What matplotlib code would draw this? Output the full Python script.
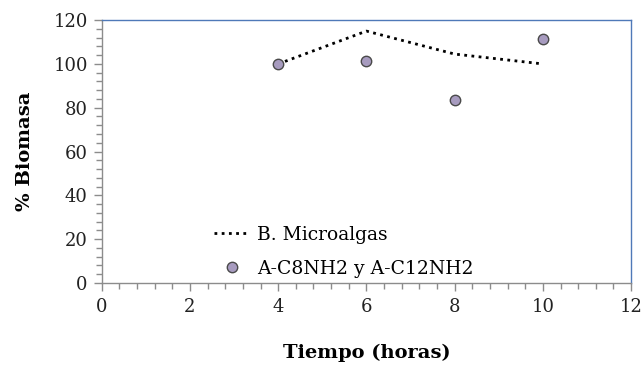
import numpy as np
import matplotlib
matplotlib.use("Agg")
import matplotlib.pyplot as plt
from matplotlib.ticker import MultipleLocator

# data
line_x = [4, 6, 8, 10]
line_y = [100, 115, 104.5, 100]
pts_x = [4, 6, 8, 10]
pts_y = [100, 101.5, 83.5, 111.5]

plt.rcParams['font.family'] = ['DejaVu Serif']

fig = plt.figure(figsize=(6.44, 3.66), dpi=100)
ax = fig.add_axes([0.158, 0.227, 0.822, 0.718])

ax.plot(line_x, line_y, color='black', linestyle=(0, (1, 1.6)), linewidth=2.0,
        label='B. Microalgas', zorder=2)
ax.plot(pts_x, pts_y, linestyle='none', marker='o', markersize=7.5,
        markerfacecolor='#a79bbf', markeredgecolor='#4a4a4a', markeredgewidth=1.0,
        label='A-C8NH2 y A-C12NH2', zorder=3)

ax.set_xlim(0, 12)
ax.set_ylim(0, 120)
ax.xaxis.set_major_locator(MultipleLocator(2))
ax.xaxis.set_minor_locator(MultipleLocator(0.4))
ax.yaxis.set_major_locator(MultipleLocator(20))
ax.yaxis.set_minor_locator(MultipleLocator(4))

for s in ['left', 'bottom']:
    ax.spines[s].set_color('#8c8c8c')
    ax.spines[s].set_linewidth(1.0)
for s in ['top', 'right']:
    ax.spines[s].set_color('#4f79b8')
    ax.spines[s].set_linewidth(1.0)

ax.tick_params(which='major', direction='out', length=6, width=1, color='#8c8c8c',
               labelsize=13, labelcolor='#222222', pad=4)
ax.tick_params(which='minor', direction='out', length=4, width=1, color='#8c8c8c')
ax.tick_params(axis='x', pad=5)

ax.set_xlabel('Tiempo (horas)', fontsize=14, fontweight='bold', labelpad=20)
ax.set_ylabel('% Biomasa', fontsize=14, fontweight='bold', labelpad=14)

ax.legend(loc='lower left', bbox_to_anchor=(0.18, -0.045), frameon=False,
          fontsize=13.5, handlelength=1.9, handletextpad=0.4, labelspacing=0.85)

fig.savefig('out.png', dpi=100)
